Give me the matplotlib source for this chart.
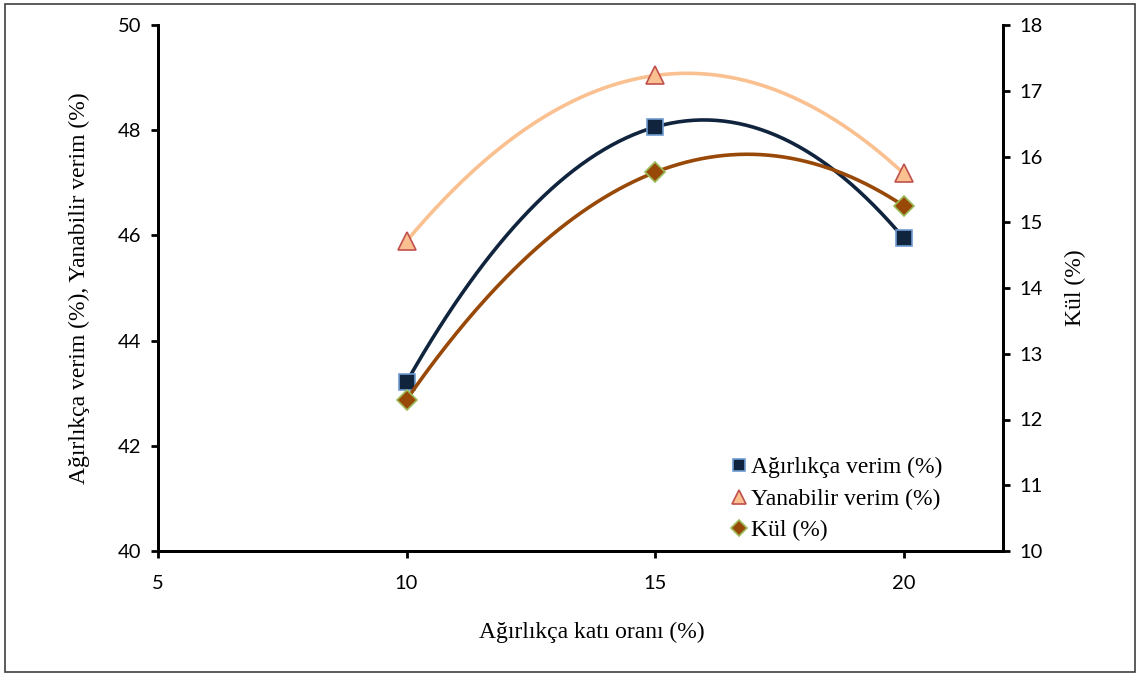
import numpy as np
import matplotlib
matplotlib.use("Agg")
import matplotlib.pyplot as plt
from matplotlib.patches import Rectangle

# Data
x_vals = [10, 15, 20]
agirlikca = [43.21, 48.06, 45.95]
yanabilir = [45.89, 49.04, 47.18]
kul = [12.30, 15.76, 15.25]

series_labels = ["Ağırlıkça verim (%)", "Yanabilir verim (%)", "Kül (%)"]
x_ticks = [5, 10, 15, 20]
left_ticks = [40, 42, 44, 46, 48, 50]
right_ticks = [10, 11, 12, 13, 14, 15, 16, 17, 18]

tick_font = "Lato"
serif = "Liberation Serif"

fig = plt.figure(figsize=(11.4, 6.78), dpi=100)
ax = fig.add_axes([158/1140, 1-551/678, (1003-158)/1140, (551-25)/678])
ax2 = ax.twinx()

xs = np.linspace(min(x_vals), max(x_vals), 200)

# trendlines (2nd order polynomial)
c_ag = np.polyfit(x_vals, agirlikca, 2)
c_ya = np.polyfit(x_vals, yanabilir, 2)
c_ku = np.polyfit(x_vals, kul, 2)

ax.plot(xs, np.polyval(c_ya, xs), color="#FAC090", lw=2.6, zorder=2)
ax.plot(xs, np.polyval(c_ag, xs), color="#10243E", lw=2.6, zorder=2)

h1, = ax.plot(x_vals, agirlikca, linestyle="none", marker="s", ms=12,
              mfc="#10243E", mec="#6F9BD1", mew=1.2, zorder=3, label=series_labels[0])
h2, = ax.plot(x_vals, yanabilir, linestyle="none", marker="^", ms=13,
              mfc="#FAC090", mec="#C0504D", mew=1.2, zorder=3, label=series_labels[1])

ax2.plot(xs, np.polyval(c_ku, xs), color="#984807", lw=2.6, zorder=2)
h3, = ax2.plot(x_vals, kul, linestyle="none", marker="D", ms=10.5,
               mfc="#984807", mec="#9BBB59", mew=1.2, zorder=3, label=series_labels[2])

ax.set_xlim(5, 22)
ax.set_ylim(40, 50)
ax2.set_ylim(10, 18)
ax.set_xticks(x_ticks)
ax.set_yticks(left_ticks)
ax2.set_yticks(right_ticks)

for a in (ax, ax2):
    a.spines["top"].set_visible(False)
    for s in a.spines.values():
        s.set_linewidth(2)
        s.set_color("black")
    a.tick_params(direction="out", length=5, width=2, labelsize=14.5, pad=7)
    for lab in a.get_xticklabels() + a.get_yticklabels():
        lab.set_fontfamily(tick_font)
ax.tick_params(axis="x", pad=12)

ax.set_xlabel("Ağırlıkça katı oranı (%)", fontfamily=serif, fontsize=17, labelpad=22)
ax.xaxis.set_label_coords(0.5136, -0.135)
ax.set_ylabel("Ağırlıkça verim (%), Yanabilir verim (%)", fontfamily=serif, fontsize=17, labelpad=20)
ax2.set_ylabel("Kül (%)", fontfamily=serif, fontsize=17, labelpad=16)

leg = ax2.legend(handles=[h1, h2, h3], loc="lower right", bbox_to_anchor=(0.953, -0.022),
                 frameon=False, prop={"family": serif, "size": 17},
                 handletextpad=0.0, handlelength=1.0, labelspacing=0.42, markerscale=0.75)

fig.patches.append(Rectangle((5/1140, 1-672/678), 1130/1140, 668/678,
                             transform=fig.transFigure, fill=False,
                             edgecolor="#404040", lw=1.2))

fig.savefig("out.png", dpi=100)
